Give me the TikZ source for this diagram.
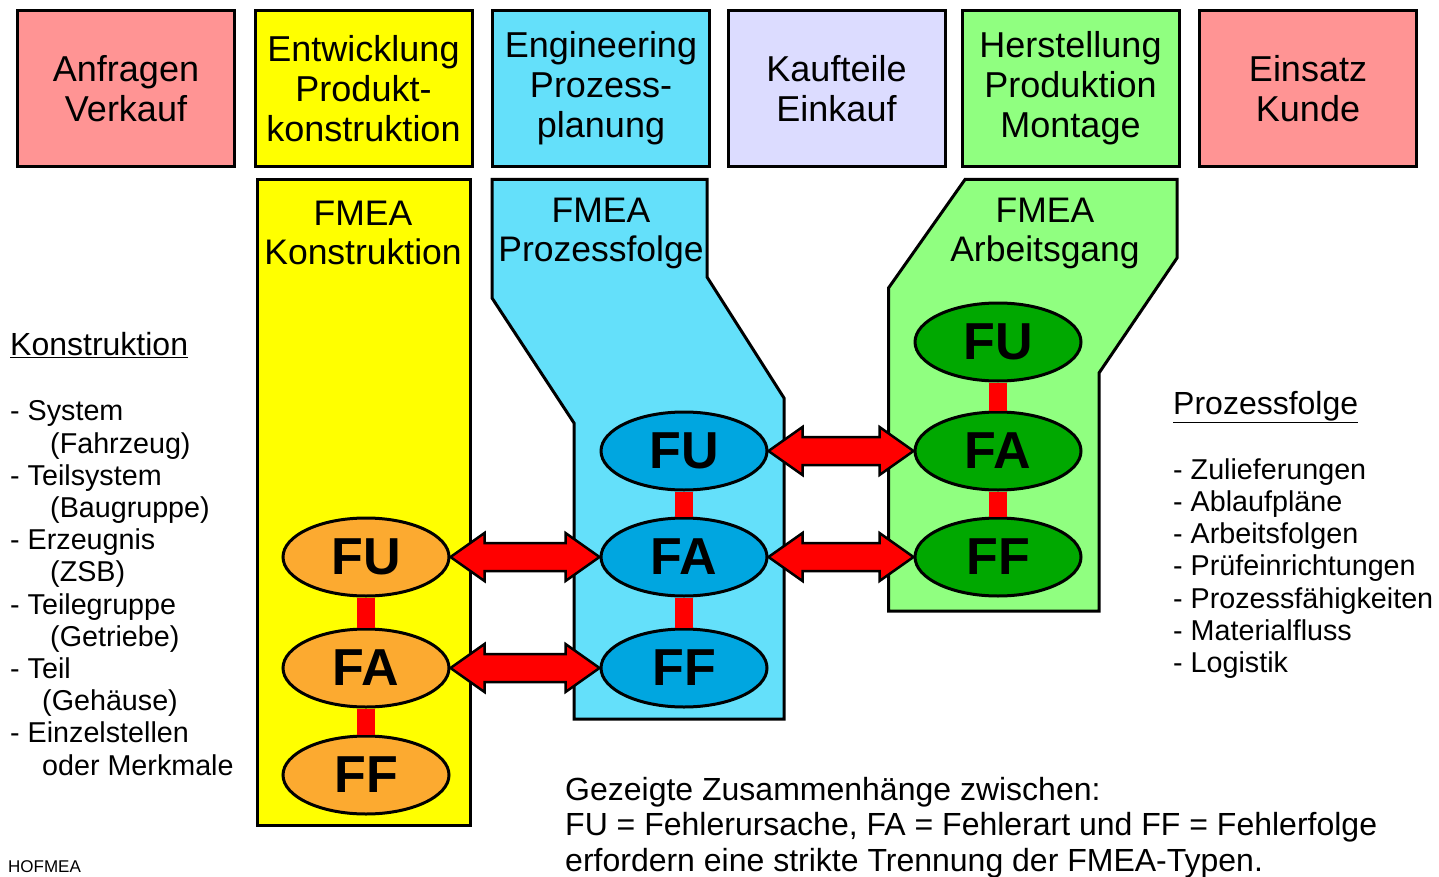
\documentclass[tikz,border=0pt]{standalone}
\usepackage{fontspec}
\setmainfont{Liberation Sans}
\usetikzlibrary{shapes.geometric,calc}
\definecolor{cpink}{RGB}{255,148,148}
\definecolor{cyellow}{RGB}{255,255,0}
\definecolor{ccyan}{RGB}{100,224,250}
\definecolor{clav}{RGB}{220,220,255}
\definecolor{clgreen}{RGB}{144,255,128}
\definecolor{corange}{RGB}{252,170,48}
\definecolor{cblue}{RGB}{0,166,224}
\definecolor{cdgreen}{RGB}{0,168,0}
\newcommand\fatarrow[2]{%
  \draw[fat] (#1) -- ($(#1)+(34,-24)$) -- ($(#1)+(34,-14)$) -- ($(#2)+(-34,-14)$) -- ($(#2)+(-34,-24)$) -- (#2)
    -- ($(#2)+(-34,24)$) -- ($(#2)+(-34,14)$) -- ($(#1)+(34,14)$) -- ($(#1)+(34,24)$) -- cycle;}
\begin{document}
\begin{tikzpicture}[x=1pt,y=-1pt,
  topbox/.style={draw=black, line width=3pt, minimum width=217pt, minimum height=156pt, inner sep=0pt, align=center, font=\fontsize{36}{40}\selectfont},
  col/.style={draw=black, line width=3pt, line join=miter},
  ell/.style={ellipse, draw=black, line width=3pt, minimum width=166pt, minimum height=78pt, inner sep=0pt, font=\fontsize{52}{52}\selectfont\bfseries},
  bar/.style={draw=red, line width=18pt},
  fat/.style={fill=red, draw=black, line width=2.5pt, line join=miter},
  head/.style={align=center, inner sep=0pt, font=\fontsize{35.5}{39}\selectfont},
  list/.style={align=left, inner sep=0pt, anchor=base west, font=\fontsize{28.7}{32.2}\selectfont},
  ttl/.style={inner sep=0pt, anchor=base west, font=\fontsize{32}{35.5}\selectfont}]
\useasboundingbox[fill=white] (0,0) rectangle (1439,877);
% top boxes
\node[topbox, fill=cpink]   (t1) at (126,88.5)   {Anfragen\\Verkauf};
\node[topbox, fill=cyellow] (t2) at (363.5,88.5) {Entwicklung\\Produkt-\\konstruktion};
\node[topbox, fill=ccyan]   (t3) at (601,88.5)   {Engineering\\Prozess-\\planung};
\node[topbox, fill=clav]    (t4) at (836.5,88.5) {Kaufteile\\Einkauf};
\node[topbox, fill=clgreen] (t5) at (1070.5,88.5) {Herstellung\\Produktion\\Montage};
\node[topbox, fill=cpink]   (t6) at (1308,88.5)  {Einsatz\\Kunde};
% FMEA columns
\draw[col, fill=cyellow] (257.5,179.5) rectangle (470,825);
\draw[col, fill=ccyan] (492,179.5) -- (707,179.5) -- (707,277) -- (784,398) -- (784,719) -- (574,719) -- (574,423) -- (492,298) -- cycle;
\draw[col, fill=clgreen] (965,179.5) -- (1177,179.5) -- (1177,258) -- (1099,373) -- (1099,611) -- (888.5,611) -- (888.5,288) -- cycle;
\node[head] (h1) at (363,233) {FMEA\\Konstruktion};
\node[head] (h2) at (601,233) {FMEA\\Prozessfolge};
\node[head] (h3) at (1045,233) {FMEA\\Arbeitsgang};
% ellipses
\node[ell, fill=corange] (ofu) at (366,557) {FU};
\node[ell, fill=corange] (ofa) at (366,668) {FA};
\node[ell, fill=corange] (off) at (366,775) {FF};
\node[ell, fill=cblue] (bfu) at (684,451) {FU};
\node[ell, fill=cblue] (bfa) at (684,557) {FA};
\node[ell, fill=cblue] (bff) at (684,668) {FF};
\node[ell, fill=cdgreen] (gfu) at (998,342) {FU};
\node[ell, fill=cdgreen] (gfa) at (998,451) {FA};
\node[ell, fill=cdgreen] (gff) at (998,557) {FF};
% vertical bars
\draw[bar] (ofu.south) -- (ofa.north);
\draw[bar] (ofa.south) -- (off.north);
\draw[bar] (bfu.south) -- (bfa.north);
\draw[bar] (bfa.south) -- (bff.north);
\draw[bar] (gfu.south) -- (gfa.north);
\draw[bar] (gfa.south) -- (gff.north);
% fat double arrows
\fatarrow{ofu.east}{bfa.west}
\fatarrow{ofa.east}{bff.west}
\fatarrow{bfu.east}{gfa.west}
\fatarrow{bfa.east}{gff.west}
% left list
\node[ttl] (kh) at (10,355) {\underline{Konstruktion}};
\node[list] (kl) at (10,775) {- System\\\hspace*{40pt}(Fahrzeug)\\- Teilsystem\\\hspace*{40pt}(Baugruppe)\\- Erzeugnis\\\hspace*{40pt}(ZSB)\\- Teilegruppe\\\hspace*{40pt}(Getriebe)\\- Teil\\\hspace*{32pt}(Gehäuse)\\- Einzelstellen\\\hspace*{32pt}oder Merkmale};
% right list
\node[ttl] (ph) at (1173,414) {\underline{Prozessfolge}};
\node[list] (pl) at (1173,672.5) {- Zulieferungen\\- Ablaufpläne\\- Arbeitsfolgen\\- Prüfeinrichtungen\\- Prozessfähigkeiten\\- Materialfluss\\- Logistik};
% bottom text
\node[ttl, align=left] (bt) at (565,871) {Gezeigte Zusammenhänge zwischen:\\FU = Fehlerursache, FA = Fehlerart und FF = Fehlerfolge\\erfordern eine strikte Trennung der FMEA-Typen.};
\node[inner sep=0pt, anchor=base west, font=\fontsize{17}{17}\selectfont] (hof) at (8,872) {HOFMEA};
\end{tikzpicture}
\end{document}
